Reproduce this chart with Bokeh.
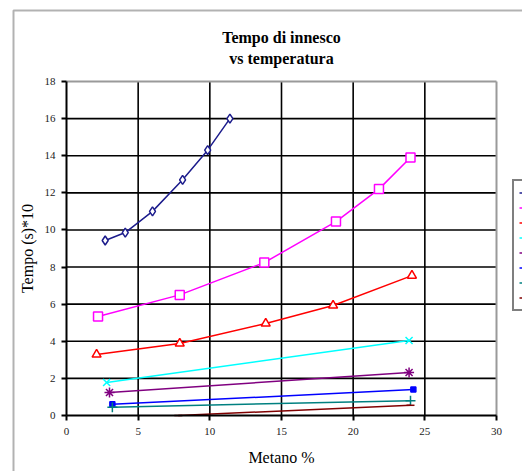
from bokeh.plotting import figure
from bokeh.models import BoxAnnotation, Legend, LegendItem, FixedTicker, Label, Range1d
from bokeh.embed import file_html
from bokeh.resources import INLINE

# Data (x = Metano %, y = Tempo (s)*10)
x1 = [2.7, 4.1, 6.0, 8.1, 9.85, 11.4]
y1 = [9.43, 9.86, 11.0, 12.7, 14.3, 16.0]
x2 = [2.2, 7.9, 13.8, 18.8, 21.8, 24.0]
y2 = [5.33, 6.5, 8.24, 10.45, 12.2, 13.9]
x3 = [2.1, 7.9, 13.9, 18.6, 24.1]
y3 = [3.29, 3.88, 4.96, 5.93, 7.54]
x4 = [2.8, 23.9]
y4 = [1.78, 4.04]
x5 = [3.0, 23.9]
y5 = [1.24, 2.32]
x6 = [3.2, 24.2]
y6 = [0.6, 1.4]
x7 = [3.2, 24.0]
y7 = [0.45, 0.8]
x8 = [7.8, 24.0]
y8 = [0.0, 0.55]

x_ticks = [0, 5, 10, 15, 20, 25, 30]
y_ticks = [0, 2, 4, 6, 8, 10, 12, 14, 16, 18]

title_lines = ["Tempo di innesco", "vs temperatura"]
x_label = "Metano %"
y_label = "Tempo (s)*10"

series = [
    (x1, y1, "#1c1c8c", "diamond", 9),
    (x2, y2, "#ff00ff", "square", 9),
    (x3, y3, "#ff0000", "triangle", 9),
    (x4, y4, "#00ffff", "x", 10),
    (x5, y5, "#800080", "asterisk", 10),
    (x6, y6, "#0000ff", "square", 5),
    (x7, y7, "#008080", "cross", 10),
    (x8, y8, "#800000", "dash", 8),
]

SERIF = "Liberation Serif"

# page layout (pixels)
W, H = 522, 471
PL, PR, PT, PB = 66, 496, 81, 415   # plot area edges
x0, x1_ = x_ticks[0], x_ticks[-1]
y0, y1_ = y_ticks[0], y_ticks[-1]
xs_px = (x1_ - x0) / (PR - PL)
ys_px = (y1_ - y0) / (PB - PT)
xr = Range1d(x0 - PL * xs_px, x1_ + (W - PR) * xs_px)
yr = Range1d(y0 - (H - PB) * ys_px, y1_ + PT * ys_px)

p = figure(width=W, height=H, x_range=xr, y_range=yr,
           output_backend="svg", toolbar_location=None, title=None,
           min_border=0, min_border_left=0, min_border_right=0,
           min_border_top=0, min_border_bottom=0)
p.background_fill_color = "white"
p.border_fill_color = "white"
p.outline_line_color = None
p.grid.visible = False

# grid lines
p.segment(x0=x_ticks[1:-1], y0=[y0] * (len(x_ticks) - 2),
          x1=x_ticks[1:-1], y1=[y1_] * (len(x_ticks) - 2),
          line_color="black", line_width=1.6)
p.segment(x0=[x0] * (len(y_ticks) - 2), y0=y_ticks[1:-1],
          x1=[x1_] * (len(y_ticks) - 2), y1=y_ticks[1:-1],
          line_color="black", line_width=1.6)
# light grey top / right border of the plot area
p.segment(x0=[x0, x1_], y0=[y1_, y0], x1=[x1_, x1_], y1=[y1_, y1_],
          line_color="#9a9a9a", line_width=2)

xaxis = p.xaxis[0]
yaxis = p.yaxis[0]
xaxis.ticker = FixedTicker(ticks=x_ticks)
yaxis.ticker = FixedTicker(ticks=y_ticks)
for ax in (xaxis, yaxis):
    ax.fixed_location = 0
    ax.minor_tick_line_color = None
    ax.axis_line_color = "black"
    ax.axis_line_width = 2
    ax.major_tick_line_color = "black"
    ax.major_tick_line_width = 2
    ax.major_tick_out = 5
    ax.major_tick_in = 0
    ax.major_label_text_font = SERIF
    ax.major_label_text_font_size = "11px"
    ax.major_label_text_color = "#222222"
    ax.axis_label_text_font = SERIF
    ax.axis_label_text_font_size = "16px"
    ax.axis_label_text_font_style = "normal"
    ax.axis_label_text_color = "black"
xaxis.bounds = (x0, x1_)
yaxis.bounds = (y0, y1_)
xaxis.axis_label = x_label
yaxis.axis_label = y_label
xaxis.major_label_standoff = 7
yaxis.major_label_standoff = 6
xaxis.axis_label_standoff = 11
yaxis.axis_label_standoff = 6

items = []
for xs, ys, col, mk, sz in series:
    r = p.line(xs, ys, line_color=col, line_width=1.5)
    filled = (mk == "square" and sz < 6)
    p.scatter(xs, ys, marker=mk, size=sz, line_color=col,
              fill_color=col if filled else "white", line_width=1.5)
    items.append(LegendItem(label=" ", renderers=[r]))

legend = Legend(items=items, location=(512, 160), padding=5, margin=0,
                spacing=2, glyph_height=13, label_height=13, glyph_width=20,
                label_text_font_size="10px", border_line_color="black",
                border_line_width=2, background_fill_color="white",
                background_fill_alpha=1)
p.add_layout(legend, "center")

# title (two lines, centred over the plot area)
for i, t in enumerate(title_lines):
    p.add_layout(Label(x=(x0 + x1_) / 2, y=H - (37 + 21 * i), y_units="screen",
                       text=t, text_align="center", text_baseline="middle",
                       text_font=SERIF, text_font_size="16px",
                       text_font_style="bold", text_color="black"))

# outer frame of the chart (runs off the right / bottom of the picture)
outer = BoxAnnotation(left=13, right=W + 100, top=H - 10, bottom=-100,
                      left_units="screen", right_units="screen",
                      top_units="screen", bottom_units="screen",
                      fill_alpha=0, line_color="black", line_width=2)
p.add_layout(outer)

open("out.html", "w").write(file_html(p, INLINE))
